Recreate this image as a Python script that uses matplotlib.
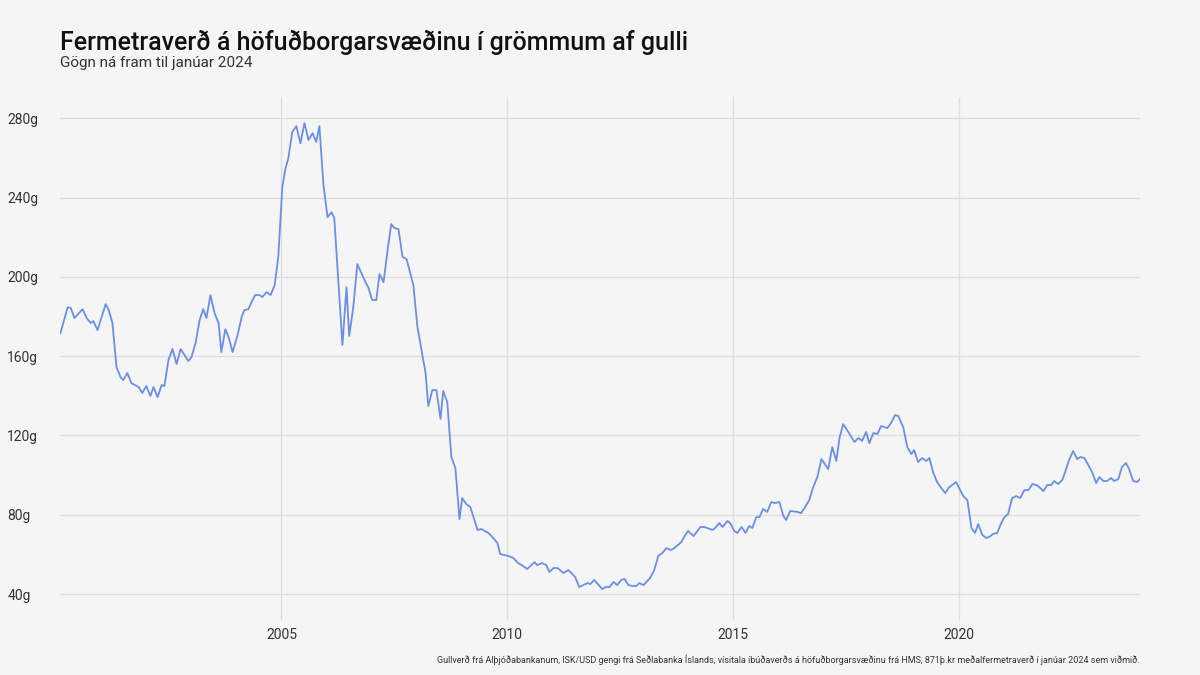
import matplotlib
matplotlib.use("Agg")
import matplotlib.pyplot as plt

years = [2000.11,2000.27,2000.34,2000.42,2000.60,2000.69,2000.78,2000.84,2000.93,2001.11,2001.18,2001.26,2001.35,2001.44,2001.50,2001.59,2001.68,2001.84,2001.92,2002.01,2002.10,2002.17,2002.26,2002.35,2002.41,2002.50,2002.59,2002.68,2002.77,2002.83,2002.94,2003.01,2003.10,2003.19,2003.27,2003.34,2003.43,2003.52,2003.61,2003.67,2003.76,2003.83,2003.92,2004.03,2004.12,2004.18,2004.27,2004.36,2004.42,2004.51,2004.58,2004.67,2004.76,2004.85,2004.93,2005.02,2005.09,2005.15,2005.24,2005.33,2005.42,2005.51,2005.60,2005.69,2005.77,2005.84,2005.93,2006.02,2006.11,2006.17,2006.35,2006.44,2006.50,2006.59,2006.68,2006.86,2006.92,2007.01,2007.10,2007.17,2007.26,2007.35,2007.43,2007.50,2007.59,2007.68,2007.77,2007.92,2008.01,2008.19,2008.25,2008.34,2008.43,2008.52,2008.58,2008.67,2008.76,2008.85,2008.94,2009.00,2009.09,2009.18,2009.25,2009.34,2009.42,2009.58,2009.69,2009.78,2009.84,2010.02,2010.13,2010.24,2010.35,2010.44,2010.60,2010.66,2010.77,2010.86,2010.93,2011.02,2011.11,2011.24,2011.35,2011.50,2011.59,2011.77,2011.84,2011.92,2012.10,2012.17,2012.26,2012.35,2012.43,2012.52,2012.59,2012.68,2012.77,2012.85,2012.92,2013.01,2013.16,2013.25,2013.34,2013.43,2013.52,2013.61,2013.67,2013.85,2013.92,2014.00,2014.12,2014.27,2014.36,2014.54,2014.60,2014.69,2014.76,2014.87,2014.93,2015.02,2015.09,2015.18,2015.27,2015.35,2015.42,2015.51,2015.58,2015.66,2015.75,2015.84,2015.93,2016.02,2016.11,2016.17,2016.26,2016.42,2016.50,2016.59,2016.68,2016.77,2016.86,2016.95,2017.01,2017.10,2017.19,2017.28,2017.35,2017.43,2017.52,2017.68,2017.77,2017.85,2017.94,2018.01,2018.10,2018.19,2018.27,2018.41,2018.49,2018.58,2018.65,2018.76,2018.85,2018.94,2019.00,2019.09,2019.18,2019.27,2019.34,2019.42,2019.51,2019.60,2019.69,2019.76,2019.93,2020.02,2020.09,2020.18,2020.27,2020.35,2020.42,2020.51,2020.60,2020.69,2020.75,2020.84,2020.93,2021.00,2021.08,2021.17,2021.26,2021.35,2021.44,2021.53,2021.62,2021.70,2021.77,2021.86,2021.95,2022.04,2022.10,2022.19,2022.28,2022.35,2022.43,2022.52,2022.61,2022.68,2022.77,2022.94,2023.03,2023.10,2023.19,2023.27,2023.36,2023.43,2023.52,2023.60,2023.69,2023.76,2023.85,2023.94,2024.00]
grams = [171.6,184.7,184.2,179.2,183.7,179.2,176.7,177.7,173.1,186.2,183.2,176.7,154.5,149.4,147.9,151.5,146.4,144.4,141.4,144.9,139.9,144.4,139.3,145.4,144.9,158.0,163.6,156.0,163.6,161.5,157.5,159.5,166.6,178.2,183.7,179.2,190.8,181.7,176.7,162.0,173.6,169.6,162.0,170.6,179.7,183.2,183.7,188.3,190.8,190.8,189.8,192.3,190.8,195.8,210.0,245.3,254.8,259.4,273.0,276.0,267.4,277.5,269.0,272.5,268.0,276.0,246.3,230.1,232.6,229.6,165.6,194.8,170.1,184.7,206.4,197.3,194.8,188.3,188.3,201.4,197.3,213.5,226.6,224.6,224.1,210.0,208.9,195.8,174.6,151.5,134.8,142.9,142.9,128.3,142.4,136.8,109.1,103.5,77.8,88.4,85.4,83.9,78.8,72.3,72.8,70.8,68.2,65.7,60.2,59.2,58.2,55.6,54.1,52.6,56.1,54.6,55.6,54.6,51.1,53.1,53.1,50.6,52.1,48.6,43.5,45.5,45.0,47.1,42.5,43.5,43.5,46.1,44.5,47.1,47.6,44.5,44.0,44.0,45.5,44.5,48.1,52.1,59.2,60.7,63.2,62.2,62.7,66.2,69.2,71.8,69.2,73.8,73.8,72.3,73.3,75.8,73.8,76.8,75.8,71.8,70.8,73.8,70.8,74.3,73.3,78.8,78.8,82.9,81.4,86.4,85.9,86.4,79.3,77.3,81.9,81.4,80.8,83.9,87.4,94.0,99.0,108.1,106.1,103.0,114.1,107.1,118.7,125.7,122.7,116.7,118.7,117.2,121.7,116.1,121.2,120.7,124.7,123.7,126.2,130.3,129.8,124.2,114.1,110.6,112.6,106.6,108.6,107.1,108.6,101.5,96.5,93.5,90.9,93.5,96.5,92.4,89.4,87.4,73.3,70.8,75.3,69.8,68.2,69.2,70.3,70.8,75.8,78.8,80.3,88.4,89.4,88.4,92.4,92.4,95.5,95.0,94.0,91.9,95.0,95.0,97.0,95.5,97.5,102.0,107.6,112.1,108.1,109.1,108.6,101.5,96.0,99.0,97.0,97.0,98.5,97.0,98.0,104.0,106.1,103.0,97.0,96.5,98.0]

x_ticks = [2005, 2010, 2015, 2020]
y_ticks = [40, 80, 120, 160, 200, 240, 280]
y_labels = [f"{v}g" for v in y_ticks]

plt.rcParams['font.family'] = ['Roboto', 'DejaVu Sans']
bg = '#f5f5f5'
fig = plt.figure(figsize=(12, 6.75), dpi=100, facecolor=bg)
ax = fig.add_axes([0.05, 0.0815, 0.9, 0.7745])
ax.set_facecolor(bg)
ax.plot(years, grams, color='#6b8ee6', lw=1.3)
ax.set_xlim(2000.1, 2024.0)
ax.set_ylim(26.9, 290.6)
ax.set_xticks(x_ticks)
ax.set_yticks(y_ticks)
ax.set_yticklabels(y_labels)
ax.tick_params(length=0, labelsize=10, colors='#333333', pad=6)
for lab in ax.get_yticklabels():
    lab.set_horizontalalignment('left')
ax.tick_params(axis='y', pad=38)
ax.grid(True, color='#dddddd', lw=0.9)
for s in ax.spines.values():
    s.set_visible(False)

fig.text(0.05, 0.937, "Fermetraverð á höfuðborgarsvæðinu í grömmum af gulli", fontsize=18, weight='medium', color='#111111', va='center')
fig.text(0.05, 0.906, "Gögn ná fram til janúar 2024", fontsize=11, color='#333333', va='center')
fig.text(0.95, 0.022, "Gullverð frá Alþjóðabankanum, ISK/USD gengi frá Seðlabanka Íslands, vísitala íbúðaverðs á höfuðborgarsvæðinu frá HMS, 871þ.kr meðalfermetraverð í janúar 2024 sem viðmið.", fontsize=6.5, color='#333333', ha='right', va='center')

fig.savefig('out.png', dpi=100, facecolor=bg)
